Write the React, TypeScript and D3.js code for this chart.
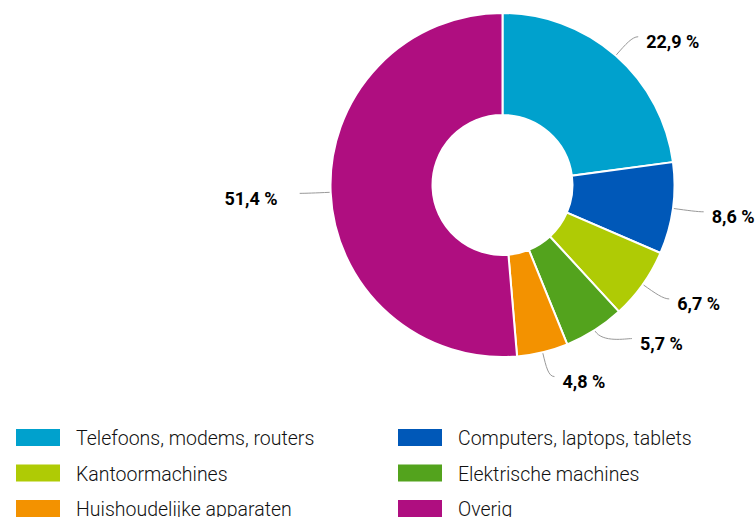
import React from 'react';
import * as d3 from 'd3';

const categories = [
  'Telefoons, modems, routers',
  'Computers, laptops, tablets',
  'Kantoormachines',
  'Elektrische machines',
  'Huishoudelijke apparaten',
  'Overig',
];
const shares = [22.9, 8.6, 6.7, 5.7, 4.8, 51.4];
const colors = ['#00a1cd', '#0058b8', '#afcb05', '#53a31d', '#f39200', '#af0e80'];

const width = 755;
const height = 517;
const cx = 502.5;
const cy = 185;
const outerR = 172;
const innerR = 70;
const labelR = 197;
const minGap = 38;

const fmt = (v: number) => `${v.toFixed(1).replace('.', ',')} %`;

export default function App() {
  const pie = d3.pie<number>().sort(null).value((d) => d);
  const arcs = pie(shares);
  const arcGen = d3.arc<d3.PieArcDatum<number>>().innerRadius(innerR).outerRadius(outerR);

  // label anchors on a circle round the donut
  const labels = arcs.map((a, i) => {
    const mid = (a.startAngle + a.endAngle) / 2;
    const right = Math.sin(mid) >= 0;
    return {
      i,
      mid,
      right,
      x: cx + labelR * Math.sin(mid),
      y: cy - labelR * Math.cos(mid),
    };
  });

  // push right side labels up when they crowd each other (bottom first)
  const rightSide = labels.filter((l) => l.right).sort((a, b) => a.y - b.y);
  for (let k = rightSide.length - 2; k >= 0; k -= 1) {
    const lo = rightSide[k + 1];
    const l = rightSide[k];
    if (l.y > lo.y - minGap) {
      l.y = lo.y - minGap;
      const dy = l.y - cy;
      l.x = cx + Math.sqrt(Math.max(0, labelR * labelR - dy * dy));
    }
  }

  const legendRows = d3.range(Math.ceil(categories.length / 2));
  const rowY = d3.scalePoint<number>().domain(legendRows).range([429, 500]);
  const colX = d3.scalePoint<number>().domain([0, 1]).range([16, 398]);

  return (
    <svg
      width={width}
      height={height}
      style={{ position: 'absolute', left: 0, top: 0, display: 'block' }}
    >
      <g transform={`translate(${cx},${cy})`}>
        {arcs.map((a, i) => (
          <path key={categories[i]} d={arcGen(a) || ''} fill={colors[i]} stroke="#fff" strokeWidth={2} />
        ))}
      </g>
      {labels.map((l) => {
        const sx = Math.sin(l.mid);
        const sy = -Math.cos(l.mid);
        const p0 = [cx + (outerR + 1) * sx, cy + (outerR + 1) * sy];
        const c1 = [p0[0] + 14 * sx, p0[1] + 14 * sy];
        const dir = l.right ? 1 : -1;
        const end = [l.x + 6 * dir, l.y];
        const d = `M${p0[0]},${p0[1]} C${c1[0]},${c1[1]} ${l.x},${l.y} ${end[0]},${end[1]}`;
        return (
          <g key={categories[l.i]}>
            <path d={d} fill="none" stroke="#999" strokeWidth={1} />
            <text
              x={l.right ? end[0] + 8 : end[0] - 22}
              y={l.y + 5}
              dy="0.36em"
              textAnchor={l.right ? 'start' : 'end'}
              fontFamily="Roboto, 'Noto Sans', sans-serif"
              fontWeight="bold"
              fontSize={18}
              fill="#000"
            >
              {fmt(shares[l.i])}
            </text>
          </g>
        );
      })}
      <g>
        {categories.map((c, i) => {
          const x = colX(i % 2) as number;
          const y = rowY(Math.floor(i / 2)) as number;
          return (
            <g key={c} transform={`translate(${x},${y})`}>
              <rect width={44} height={17} fill={colors[i]} />
              <text
                x={60}
                y={16}
                fontFamily="Roboto, 'Noto Sans', sans-serif"
                fontWeight={300}
                fontSize={19.5}
                fill="#111"
              >
                {c}
              </text>
            </g>
          );
        })}
      </g>
    </svg>
  );
}
